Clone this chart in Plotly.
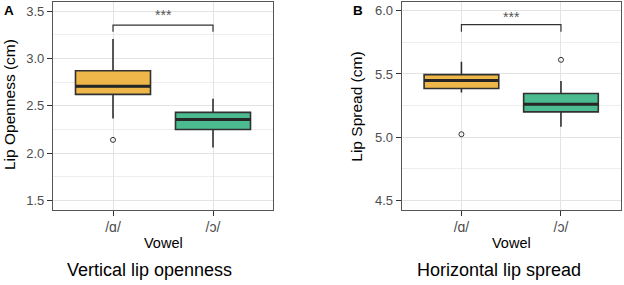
import plotly.graph_objects as go

# ---- data ----
vowels = ["/ɑ/", "/ɔ/"]
xpos = [1, 2]
colors = ["#EFB441", "#43B88A"]

# Panel A: Lip openness (cm)
a_q1 = [2.62, 2.25]
a_med = [2.705, 2.355]
a_q3 = [2.87, 2.43]
a_lo = [2.365, 2.06]
a_hi = [3.205, 2.575]
a_out_x = [1]
a_out_y = [2.14]
a_bracket_y = [3.282, 3.352]

# Panel B: Lip spread (cm)
b_q1 = [5.385, 5.20]
b_med = [5.448, 5.26]
b_q3 = [5.495, 5.345]
b_lo = [5.353, 5.083]
b_hi = [5.596, 5.445]
b_out_x = [1, 2]
b_out_y = [5.023, 5.612]
b_bracket_y = [5.835, 5.891]

W, H = 624, 285
fig = go.Figure()

def add_panel(xa, ya, q1, med, q3, lo, hi, ox, oy, br, star_y):
    for i in range(2):
        fig.add_trace(go.Box(
            x=[xpos[i]], q1=[q1[i]], median=[med[i]], q3=[q3[i]],
            lowerfence=[lo[i]], upperfence=[hi[i]],
            width=0.75, whiskerwidth=0, fillcolor=colors[i], opacity=0.95,
            line=dict(color="#262626", width=1.6), boxpoints=False,
            xaxis=xa, yaxis=ya, showlegend=False, hoverinfo="skip"))
        # thicker median line
        fig.add_trace(go.Scatter(
            x=[xpos[i] - 0.375, xpos[i] + 0.375], y=[med[i], med[i]],
            mode="lines", line=dict(color="#262626", width=3),
            xaxis=xa, yaxis=ya, showlegend=False, hoverinfo="skip"))
    fig.add_trace(go.Scatter(
        x=ox, y=oy, mode="markers",
        marker=dict(symbol="circle-open", size=5, color="#333333", line=dict(width=1)),
        xaxis=xa, yaxis=ya, showlegend=False, hoverinfo="skip"))
    fig.add_trace(go.Scatter(
        x=[xpos[0], xpos[0], xpos[1], xpos[1]], y=[br[0], br[1], br[1], br[0]],
        mode="lines", line=dict(color="#333333", width=1.2),
        xaxis=xa, yaxis=ya, showlegend=False, hoverinfo="skip"))
    fig.add_annotation(x=1.5, y=star_y, xref=xa, yref=ya, text="***",
                       showarrow=False, font=dict(size=14, color="#555555"))

add_panel("x", "y", a_q1, a_med, a_q3, a_lo, a_hi, a_out_x, a_out_y, a_bracket_y, 3.46)
add_panel("x2", "y2", b_q1, b_med, b_q3, b_lo, b_hi, b_out_x, b_out_y, b_bracket_y, 5.955)

grid = "#E3E3E3"
common_x = dict(range=[0.4, 2.6], tickvals=xpos, ticktext=vowels, showgrid=True,
                gridcolor=grid, gridwidth=1.2, zeroline=False, showline=True, mirror=True,
                linecolor="#555555", linewidth=1.2, ticks="outside", ticklen=5,
                tickcolor="#333333", ticklabelstandoff=-1,
                tickfont=dict(size=14, color="#4D4D4D", family="Liberation Sans"))
common_y = dict(dtick=0.5, showgrid=True, gridcolor=grid, gridwidth=1.2, zeroline=False,
                showline=True, mirror=True, linecolor="#555555", linewidth=1.2,
                ticks="outside", ticklen=5, tickcolor="#333333",
                tickfont=dict(size=13, color="#4D4D4D", family="Liberation Sans"),
                tickformat=".1f",
                minor=dict(dtick=0.25, showgrid=True, gridcolor="#EEEEEE", gridwidth=1))

ydom = [1 - 210 / H, 1 - 2 / H]
fig.update_layout(
    width=W, height=H, margin=dict(l=0, r=0, t=0, b=0),
    plot_bgcolor="white", paper_bgcolor="white",
    font=dict(family="Liberation Sans", color="#1A1A1A"),
    xaxis=dict(common_x, domain=[53 / W, 273 / W], anchor="y"),
    yaxis=dict(common_y, domain=ydom, range=[1.40, 3.595], anchor="x"),
    xaxis2=dict(common_x, domain=[401.7 / W, 620.7 / W], anchor="y2"),
    yaxis2=dict(common_y, domain=ydom, range=[4.423, 6.07], anchor="x2"),
)

def ann(x, y, text, size, angle=0):
    fig.add_annotation(x=x / W, y=1 - y / H, xref="paper", yref="paper", text=text,
                       showarrow=False, textangle=angle,
                       font=dict(size=size, color="#000000", family="Liberation Sans"),
                       xanchor="center", yanchor="middle")

ann(9, 105, "Lip Openness (cm)", 15.5, -90)
ann(357, 106.7, "Lip Spread (cm)", 15.5, -90)
ann(163, 243, "Vowel", 14.5)
ann(511.5, 243, "Vowel", 14.5)
ann(149.5, 270, "Vertical lip openness", 18)
ann(499, 270, "Horizontal lip spread", 18)
ann(8.7, 10.3, "<b>A</b>", 13.5)
ann(357.5, 10.3, "<b>B</b>", 13.5)

fig.write_html("out.html", config={"displayModeBar": False},
               post_script="document.body.style.margin='0';")
